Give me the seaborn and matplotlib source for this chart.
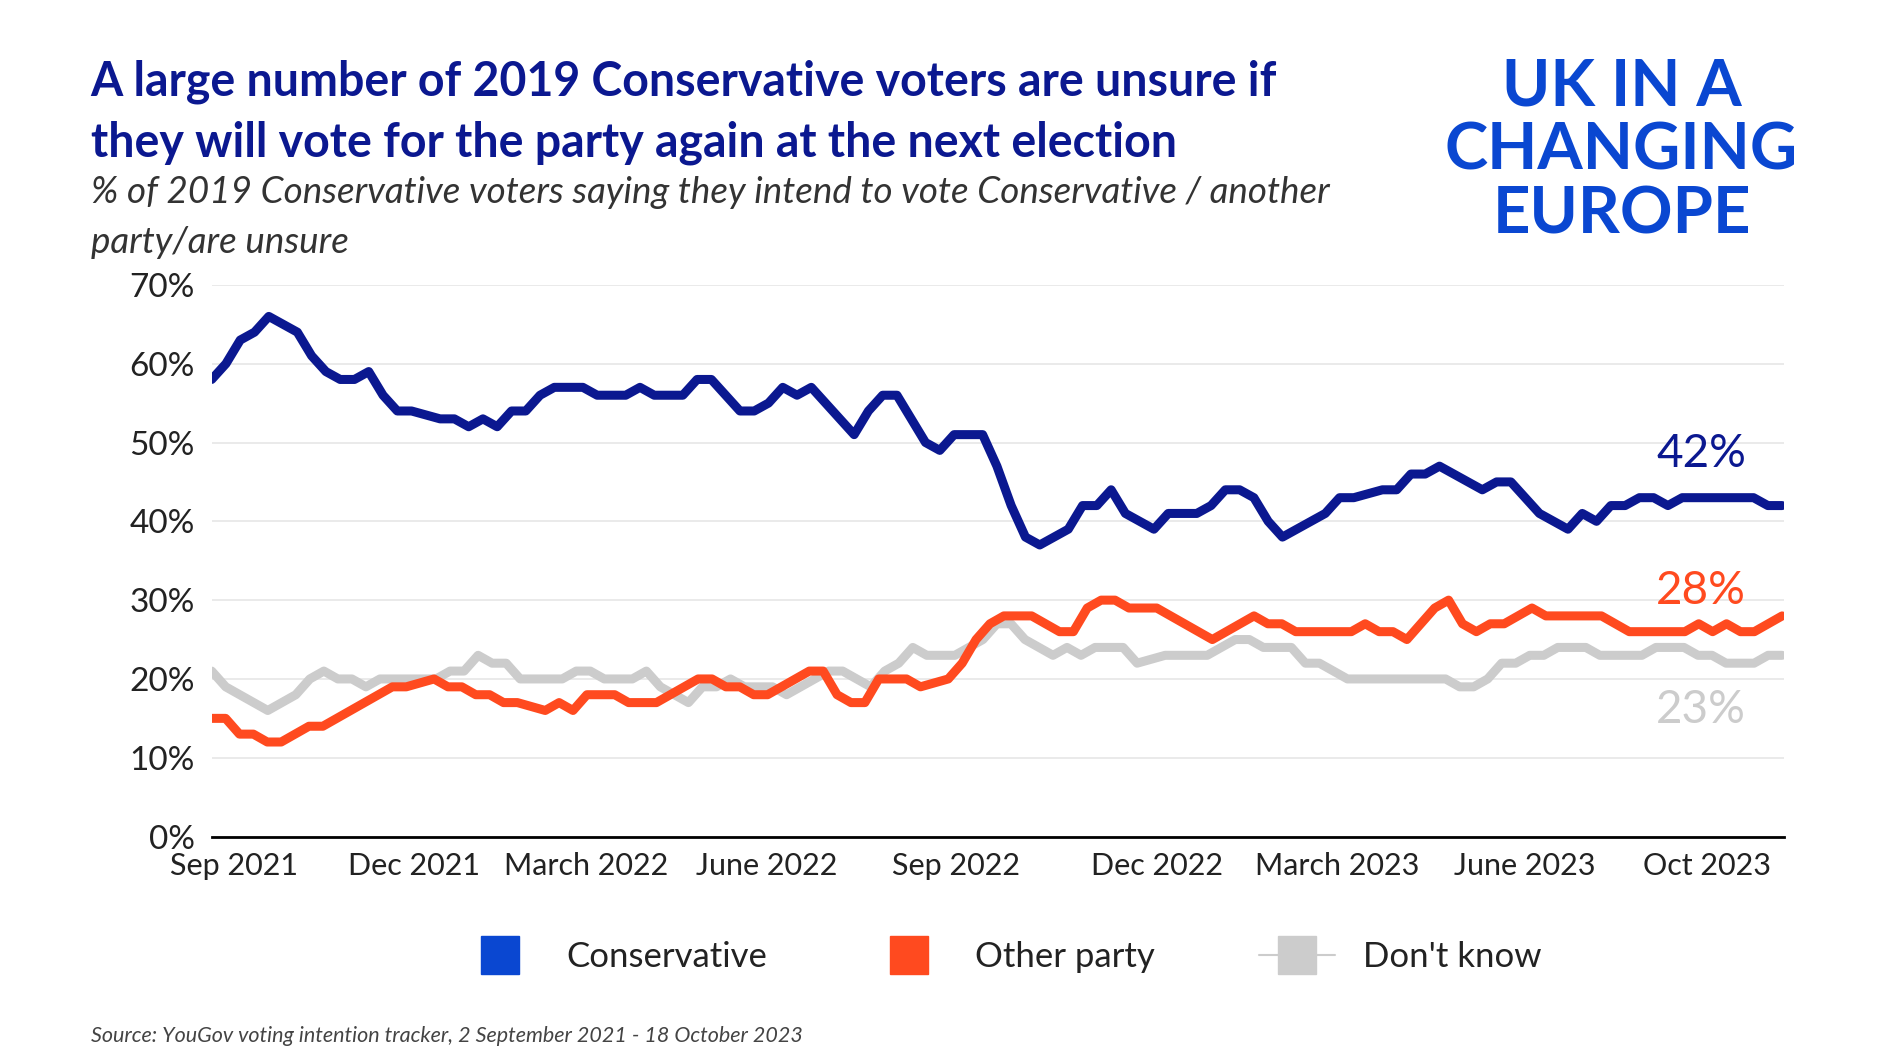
import numpy as np
import pandas as pd
import matplotlib.pyplot as plt
import seaborn as sns
from matplotlib.lines import Line2D

conservative = [58, 60, 63, 64, 66, 65, 64, 61, 59, 58, 58, 59, 56, 54, 54, 53.5, 53, 53, 52, 53, 52, 54, 54, 56,
                57, 57, 57, 56, 56, 56, 57, 56, 56, 56, 58, 58, 56, 54, 54, 55, 57, 56, 57, 55, 53, 51, 54, 56, 56,
                53, 50, 49, 51, 51, 51, 47, 42, 38, 37, 38, 39, 42, 42, 44, 41, 40, 39, 41, 41, 41, 42, 44, 44, 43,
                40, 38, 39, 40, 41, 43, 43, 43.5, 44, 44, 46, 46, 47, 46, 45, 44, 45, 45, 43, 41, 40, 39, 41, 40, 42,
                42, 43, 43, 42, 43, 43, 43, 43, 43, 43, 42, 42]
other_party = [15, 15, 13, 13, 12, 12, 13, 14, 14, 15, 16, 17, 18, 19, 19, 19.5, 20, 19, 19, 18, 18, 17, 17, 16.5,
               16, 17, 16, 18, 18, 18, 17, 17, 17, 18, 19, 20, 20, 19, 19, 18, 18, 19, 20, 21, 21, 18, 17, 17, 20,
               20, 20, 19, 19.5, 20, 22, 25, 27, 28, 28, 28, 27, 26, 26, 29, 30, 30, 29, 29, 29, 28, 27, 26, 25, 26,
               27, 28, 27, 27, 26, 26, 26, 26, 26, 27, 26, 26, 25, 27, 29, 30, 27, 26, 27, 27, 28, 29, 28, 28, 28,
               28, 28, 27, 26, 26, 26, 26, 26, 27, 26, 27, 26, 26, 27, 28]
dont_know = [21, 19, 18, 17, 16, 17, 18, 20, 21, 20, 20, 19, 20, 20, 20, 20, 20, 21, 21, 23, 22, 22, 20, 20, 20, 20,
             21, 21, 20, 20, 20, 21, 19, 18, 17, 19, 19, 20, 19, 19, 19, 18, 19, 20, 21, 21, 20, 19, 21, 22, 24, 23,
             23, 23, 24, 25, 27, 27, 25, 24, 23, 24, 23, 24, 24, 24, 22, 22.5, 23, 23, 23, 23, 24, 25, 25, 24, 24,
             24, 22, 22, 21, 20, 20, 20, 20, 20, 20, 20, 20, 19, 19, 20, 22, 22, 23, 23, 24, 24, 24, 23, 23, 23, 23,
             24, 24, 24, 23, 23, 22, 22, 22, 23, 23]

series_names = ["Conservative", "Other party", "Don't know"]
line_colors = ["#0b1890", "#ff4a1f", "#cccccc"]
legend_colors = ["#0a47d1", "#ff4a1f", "#cccccc"]
end_labels = ["42%", "28%", "23%"]
end_label_y = [48.5, 31.2, 16]

tick_dates = ["2021-09-13", "2021-12-11", "2022-03-06", "2022-06-03", "2022-09-05",
              "2022-12-13", "2023-03-12", "2023-06-13", "2023-09-11"]
tick_labels = ["Sep 2021", "Dec 2021", "March 2022", "June 2022", "Sep 2022",
               "Dec 2022", "March 2023", "June 2023", "Oct 2023"]

frames = []
for name, vals in zip(series_names, [conservative, other_party, dont_know]):
    d = pd.date_range("2021-09-02", "2023-10-18", periods=len(vals))
    frames.append(pd.DataFrame({"date": d, "value": vals, "series": name}))
df = pd.concat(frames)

sns.set_style("white")
plt.rcParams['font.family'] = ['Lato', 'DejaVu Sans']

fig = plt.figure(figsize=(18.9, 10.63), dpi=100)
ax = fig.add_axes([0.112, 0.213, 0.832, 0.519])

for name, col in zip(series_names[::-1], line_colors[::-1]):
    sub = df[df.series == name]
    sns.lineplot(data=sub, x="date", y="value", color=col, linewidth=6.5, ax=ax, legend=False)

ax.set_ylim(0, 70)
ax.set_xlim(pd.Timestamp("2021-09-02"), pd.Timestamp("2023-10-19"))
ax.set_yticks(range(0, 71, 10))
ax.set_yticklabels([f"{v}%" for v in range(0, 71, 10)], fontsize=24, color="#222222")
ax.set_xticks(pd.to_datetime(tick_dates))
ax.set_xticklabels(tick_labels, fontsize=22, color="#222222")
ax.tick_params(axis="y", length=0, pad=12)
ax.tick_params(axis="x", length=0, pad=11)
ax.grid(axis="y", color="#e6e6e6", linewidth=1.2)
for s in ["top", "right", "left"]:
    ax.spines[s].set_visible(False)
ax.spines["bottom"].set_color("black")
ax.spines["bottom"].set_linewidth(2)
ax.set_xlabel("")
ax.set_ylabel("")

for lab, yv, col in zip(end_labels, end_label_y, line_colors):
    ax.text(pd.Timestamp("2023-09-08"), yv, lab, fontsize=33, color=col, ha="center", va="center")

title_color = "#0b1890"
fig.text(0.048, 0.923, "A large number of 2019 Conservative voters are unsure if", fontsize=33.5,
         fontweight="bold", color=title_color, va="center")
fig.text(0.048, 0.866, "they will vote for the party again at the next election", fontsize=33.5,
         fontweight="bold", color=title_color, va="center")
fig.text(0.048, 0.819, "% of 2019 Conservative voters saying they intend to vote Conservative / another",
         fontsize=26.5, style="italic", color="#333333", va="center")
fig.text(0.048, 0.772, "party/are unsure", fontsize=26.5, style="italic", color="#333333", va="center")

logo_color = "#0a47d1"
fig.text(0.858, 0.918, "UK IN A", fontsize=47, fontweight="bold", color=logo_color, ha="center", va="center")
fig.text(0.858, 0.858, "CHANGING", fontsize=47, fontweight="bold", color=logo_color, ha="center", va="center")
fig.text(0.858, 0.798, "EUROPE", fontsize=47, fontweight="bold", color=logo_color, ha="center", va="center")

handles = [Line2D([0], [0], marker="s", linestyle="-" if i == 2 else "none", color=c, markersize=28,
                  linewidth=1.5) for i, c in enumerate(legend_colors)]
fig.legend(handles, series_names, loc="center", bbox_to_anchor=(0.53, 0.1), ncol=3, frameon=False,
           fontsize=25, handlelength=2.2, columnspacing=3, handletextpad=0.8, labelcolor="#222222")

fig.text(0.048, 0.02, "Source: YouGov voting intention tracker, 2 September 2021 - 18 October 2023",
         fontsize=15.5, style="italic", color="#444444")

fig.savefig("out.png", dpi=100)
